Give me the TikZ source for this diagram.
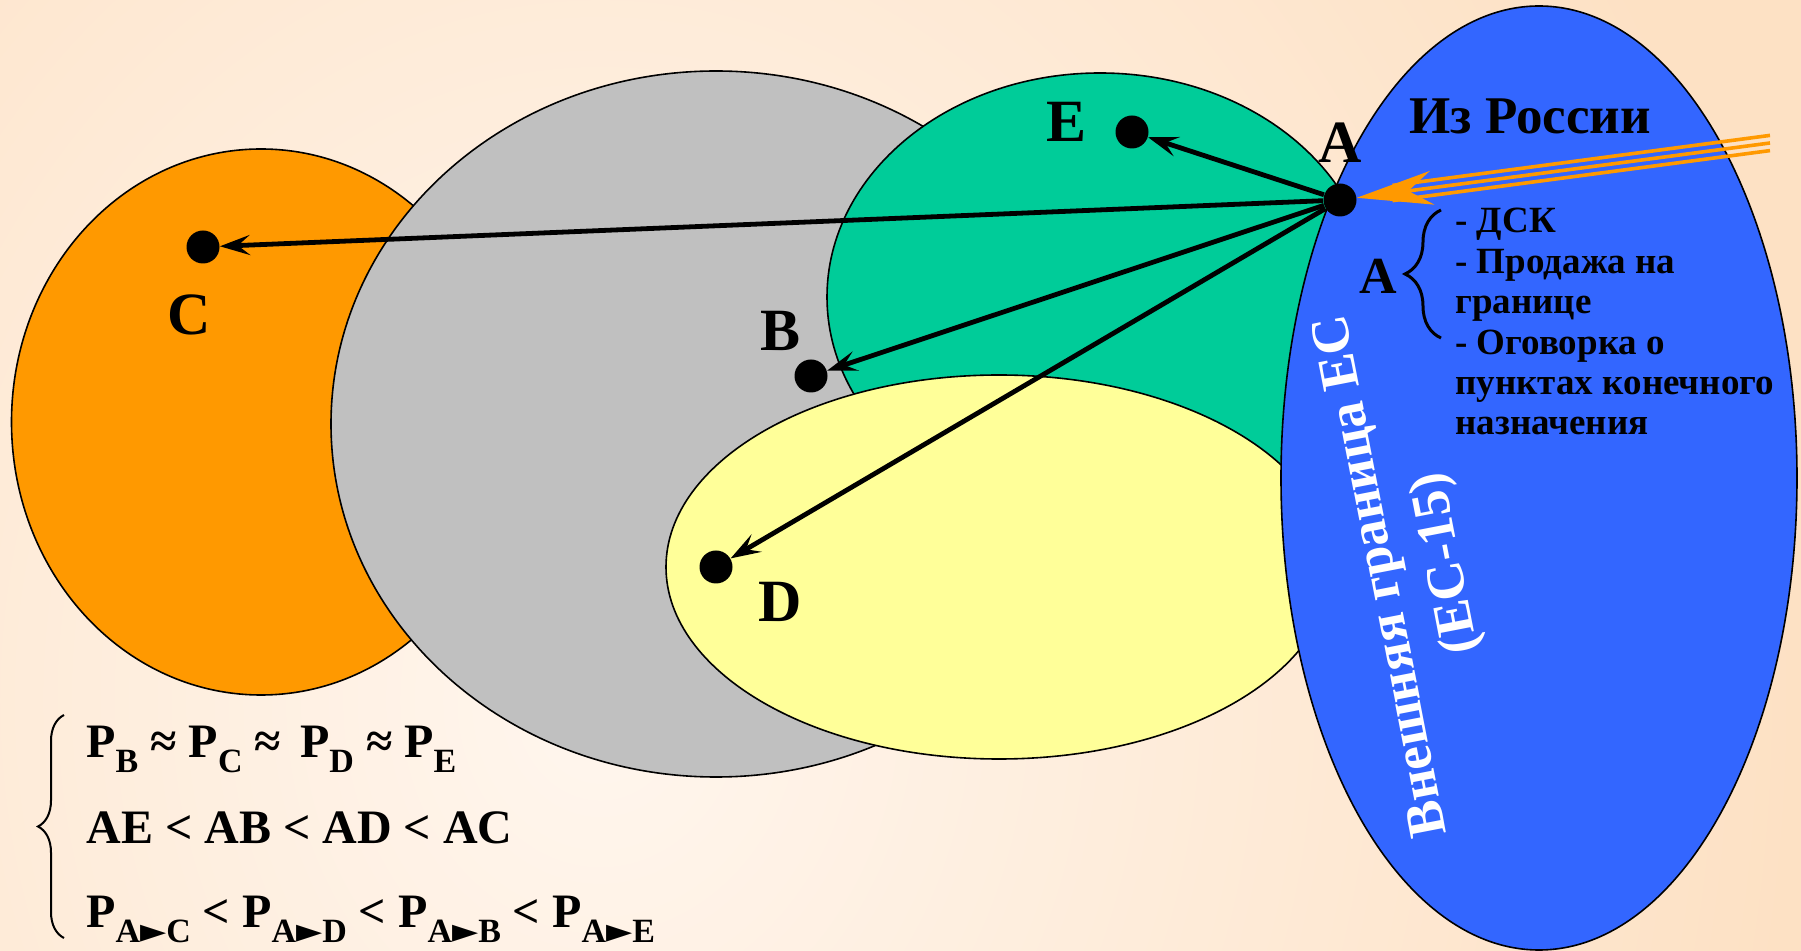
\documentclass[tikz,border=0pt]{standalone}
\usepackage{fontspec}
\setmainfont{Liberation Serif}
\newfontfamily\symbfont{DejaVu Sans}
\usetikzlibrary{arrows.meta, shapes.geometric, positioning, decorations.pathreplacing, calc}
\definecolor{bgpeach}{RGB}{253,225,196}
\definecolor{bglight}{RGB}{255,246,238}
\definecolor{setorange}{RGB}{255,153,0}
\definecolor{setgray}{RGB}{192,192,192}
\definecolor{setgreen}{RGB}{0,204,153}
\definecolor{setyellow}{RGB}{255,255,153}
\definecolor{setblue}{RGB}{51,102,255}
\newcommand{\lowidx}[1]{\raisebox{-0.3em}{\fontsize{17}{17}\selectfont #1}}
\newcommand{\tri}{{\symbfont\fontsize{17}{17}\selectfont ►}}

\begin{document}
\begin{tikzpicture}[x=0.5pt, y=0.5pt,
  every node/.style={font=\bfseries},
  region/.style={ellipse, draw, line width=0.8pt, inner sep=0pt},
  spot/.style={circle, fill=black, inner sep=0pt, minimum size=16.5pt},
  ptlabel/.style={inner sep=0pt, font=\fontsize{30}{30}\selectfont\bfseries},
  formula/.style={inner sep=0pt, anchor=base west, font=\fontsize{24}{24}\selectfont\bfseries},
  link/.style={line width=2.4pt, -{Stealth[length=15pt, width=10pt, inset=6pt]}},
  russia/.style={draw=setorange, line width=1.8pt}]
\useasboundingbox (0,0) rectangle (1801,-951);
\begin{scope}
  \clip (0,0) rectangle (1801,-951);
  \fill[bgpeach] (0,0) rectangle (1801,-951);
  \shade[inner color=bglight, outer color=bgpeach] (600,-700) ellipse [x radius=1200, y radius=1400];
\end{scope}
%
\node (orange) [region, fill=setorange, minimum width=249.5pt, minimum height=273pt] at (261,-422) {};
\node (gray)   [region, fill=setgray,   minimum width=385pt,   minimum height=353pt] at (716,-424) {};
\node (green)  [region, fill=setgreen,  minimum width=273pt,   minimum height=224pt] at (1100,-297) {};
\node (yellow) [region, fill=setyellow, minimum width=333pt,   minimum height=192pt] at (999,-567) {};
\node (blue)   [region, fill=setblue,   minimum width=258pt,   minimum height=472pt] at (1539,-478) {};
%
\node (E) [spot] at (1132,-132) {};
\node (A) [spot] at (1340,-200) {};
\node (C) [spot] at (203,-247) {};
\node (B) [spot] at (811,-376) {};
\node (D) [spot] at (716,-567) {};
\node (labE) [ptlabel, left=14pt of E, yshift=5pt] {E};
\node (labA) [ptlabel, above=10pt of A] {A};
\node (labC) [ptlabel, below=15pt of C, xshift=-7pt] {C};
\node (labB) [ptlabel, above=4pt of B, xshift=-15pt] {B};
\node (labD) [ptlabel, below right=1.5pt and 15pt of D] {D};
%
\foreach \p in {E,C,B,D}
  \draw[link] (A) -- (\p);
%
\coordinate (rus) at (1770,-143);
\draw[russia, -{Stealth[length=38pt, width=17pt, inset=12pt]}] (rus) -- (A);
\foreach \s in {3.8pt,-3.8pt}
  \draw[russia, shorten >=18pt, transform canvas={yshift=\s}] (rus) -- (A);
%
\node (fromru) [anchor=base, inner sep=0pt, font=\fontsize{26.5}{26.5}\selectfont\bfseries] at (1530,-134) {Из России};
\node (terms) [anchor=north west, align=left, inner sep=0pt, font=\fontsize{18.5}{20.2}\selectfont\bfseries] at (1455,-208)
  {- ДСК\\- Продажа на\\границе\\- Оговорка о\\пунктах конечного\\назначения};
\node (labAA) [inner sep=0pt, font=\fontsize{26}{26}\selectfont\bfseries] at (1378,-276) {A};
\coordinate (tb1) at (1441,-338);
\coordinate (tb2) at (1441,-210);
\draw[decorate, decoration={brace, amplitude=18pt}, line width=1.5pt] (tb1) -- (tb2);
%
\node (border) [rotate=101, align=center, text=white, font=\fontsize{27}{33}\selectfont\bfseries] at (1416,-569)
  {Внешняя граница ЕС\\(ЕС-15)};
%
\node (eqP) [formula] at (86,-758) {P\lowidx{B} ≈ P\lowidx{C} ≈\hspace{0.4em}P\lowidx{D} ≈ P\lowidx{E}};
\node (eqA) [formula] at (86,-844) {AE < AB < AD < AC};
\node (eqT) [formula] at (86,-928) {P\lowidx{A\tri C} < P\lowidx{A\tri D} < P\lowidx{A\tri B} < P\lowidx{A\tri E}};
\coordinate (fb1) at (64,-938);
\coordinate (fb2) at (64,-715);
\draw[decorate, decoration={brace, amplitude=13pt}, line width=1pt] (fb1) -- (fb2);
\end{tikzpicture}
\end{document}
